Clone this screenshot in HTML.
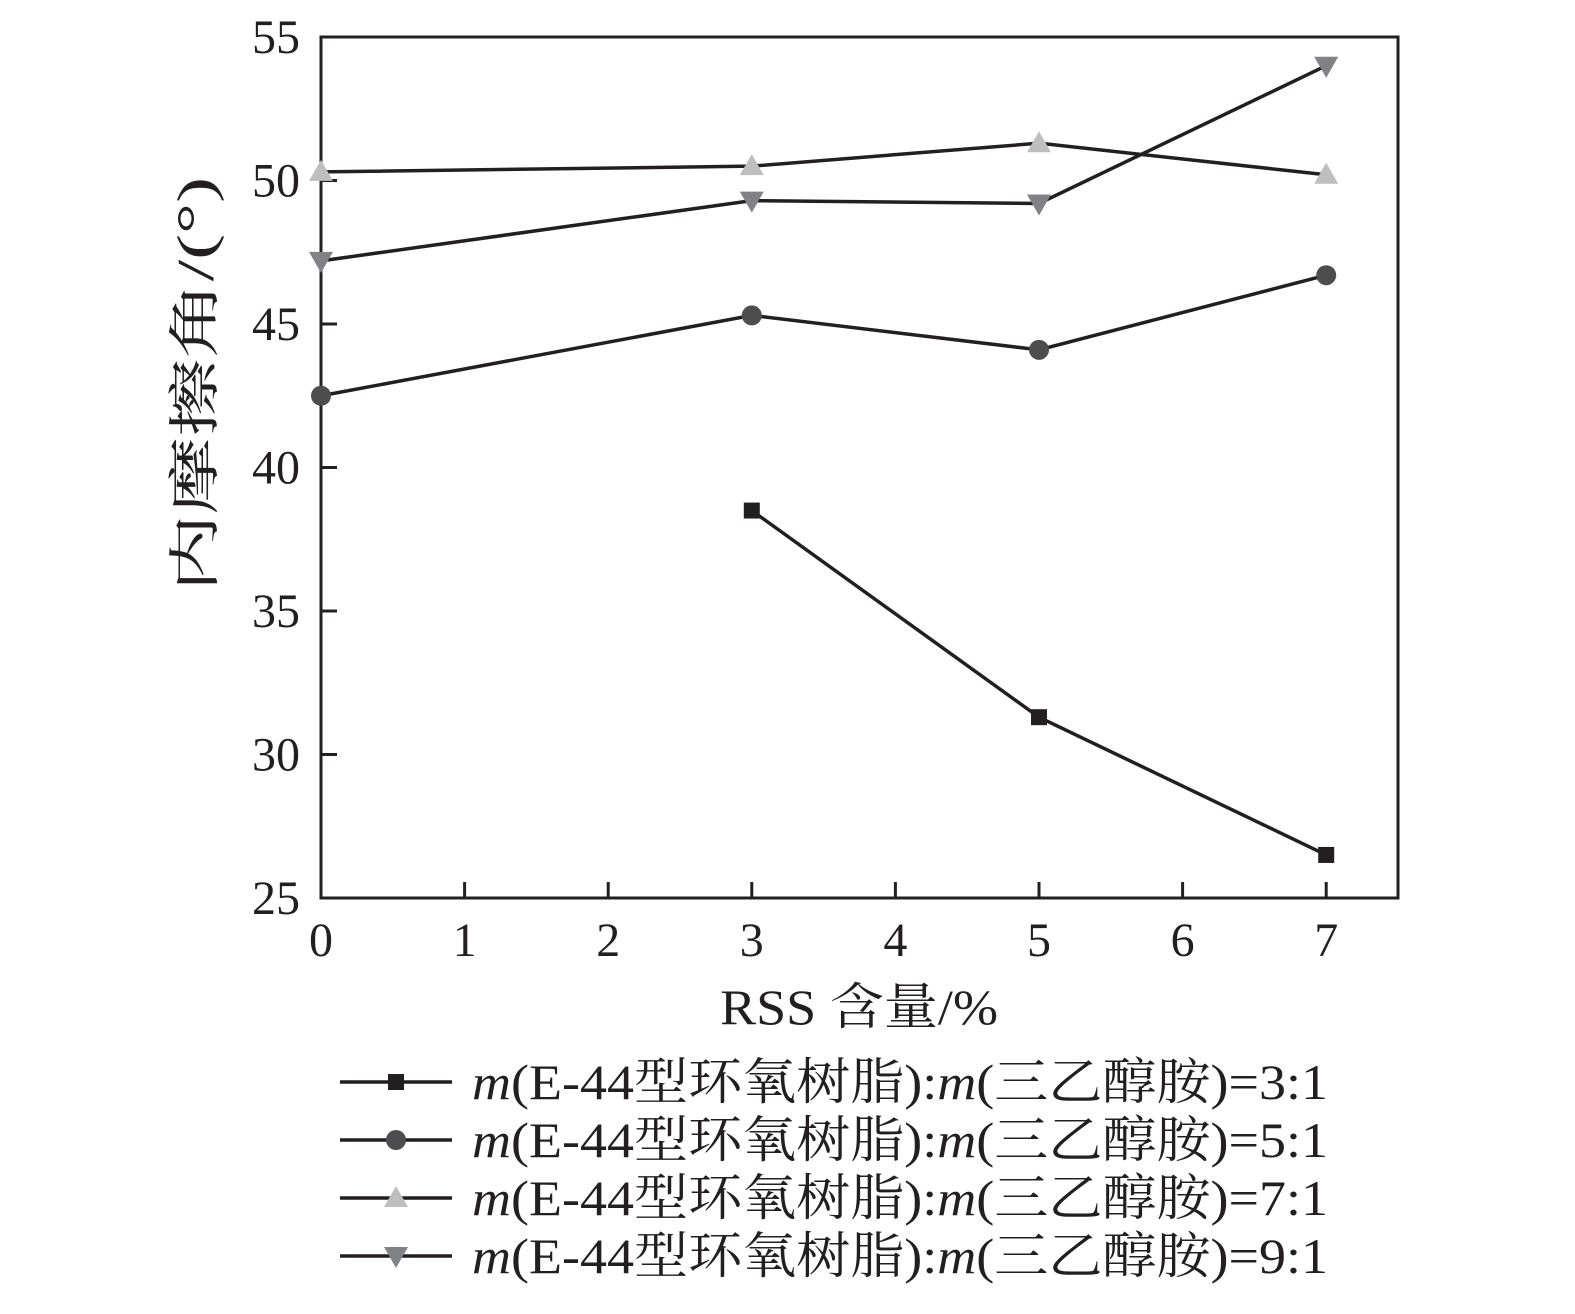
<!DOCTYPE html>
<html><head><meta charset="utf-8"><style>
body{margin:0;background:#fff}
svg text{font-family:"Liberation Serif","Noto Serif CJK SC",serif;fill:#231f20}
</style></head><body>
<svg width="1575" height="1309" viewBox="0 0 1575 1309" xmlns="http://www.w3.org/2000/svg">
<g id="plot"></g>
</svg>
<script>
const xCats=[0,3,5,7];
const s31=[null,38.5,31.3,26.5];
const s51=[42.5,45.3,44.1,46.7];
const s71=[50.3,50.5,51.3,50.2];
const s91=[47.2,49.3,49.2,54.0];
const xTicks=[0,1,2,3,4,5,6,7];
const yTicks=[25,30,35,40,45,50,55];
const legendLabels=["3:1","5:1","7:1","9:1"];

const L=321,R=1398,T=37,B=898;
const X=v=>L+(v/7.5)*(R-L);
const Y=v=>B-(v-25)/30*(B-T);
const NS="http://www.w3.org/2000/svg";
const g=document.getElementById('plot');
function mk(t,a,p){const e=document.createElementNS(NS,t);for(const k in a)e.setAttribute(k,a[k]);(p||g).appendChild(e);return e;}

const frame=mk('rect',{x:L,y:T,width:R-L,height:B-T,fill:'none',stroke:'#231f20','stroke-width':3});


xTicks.forEach(v=>{
 const t=mk('line',{x1:X(v),x2:X(v),y1:B,y2:B-16,stroke:'#231f20','stroke-width':3});
 
 
 const l=mk('text',{x:X(v),y:B+58,'text-anchor':'middle','font-size':48});
 l.textContent=v;
 
 
});
yTicks.forEach(v=>{
 const t=mk('line',{x1:L,x2:L+16,y1:Y(v),y2:Y(v),stroke:'#231f20','stroke-width':3});
 
 
 const l=mk('text',{x:300,y:Y(v)+16,'text-anchor':'end','font-size':48});
 l.textContent=v;
 
 
});
const xt=mk('text',{x:720,y:1024,'font-size':50,textLength:278,lengthAdjust:'spacingAndGlyphs'});
xt.textContent='RSS 含量/%';


const yt=mk('text',{x:-592,y:0,'font-size':52,transform:'translate(213,0) rotate(-90)',textLength:415,lengthAdjust:'spacingAndGlyphs'});
yt.textContent='内摩擦角/(°)';



function marker(type,cx,cy,p){
 let e;
 if(type==='sq') e=mk('rect',{x:cx-8,y:cy-8,width:16,height:16,fill:'#231f20'},p);
 else if(type==='ci') e=mk('circle',{cx:cx,cy:cy,r:10,fill:'#4d4d4f'},p);
 else if(type==='up') e=mk('polygon',{points:`${cx},${cy-12} ${cx-12},${cy+9} ${cx+12},${cy+9}`,fill:'#bcbec0'},p);
 else e=mk('polygon',{points:`${cx},${cy+12} ${cx-12},${cy-9} ${cx+12},${cy-9}`,fill:'#808285'},p);
 return e;
}
const series=[[s31,'sq'],[s51,'ci'],[s71,'up'],[s91,'dn']];
series.forEach(([d,m],si)=>{
 const sg=mk('g',{});
 
 
 const pts=[];xCats.forEach((x,i)=>{if(d[i]!=null)pts.push([X(x),Y(d[i])]);});
 const pl=mk('polyline',{points:pts.map(p=>p.join(',')).join(' '),fill:'none',stroke:'#231f20','stroke-width':3.5},sg);
 
 
 pts.forEach(p=>{const e=marker(m,p[0],p[1],sg);
  
  });
 const ly=1082+si*58;
 const lg=mk('g',{});
 
 
 mk('line',{x1:340,x2:452,y1:ly,y2:ly,stroke:'#231f20','stroke-width':3.5},lg);
 marker(m,396,ly,lg);
 const tx=mk('text',{x:472,y:ly+17,'font-size':50,textLength:856,lengthAdjust:'spacingAndGlyphs'},lg);
 tx.innerHTML='<tspan font-style="italic">m</tspan>(E-44型环氧树脂):<tspan font-style="italic">m</tspan>(三乙醇胺)='+legendLabels[si];
});
</script>
</body></html>
